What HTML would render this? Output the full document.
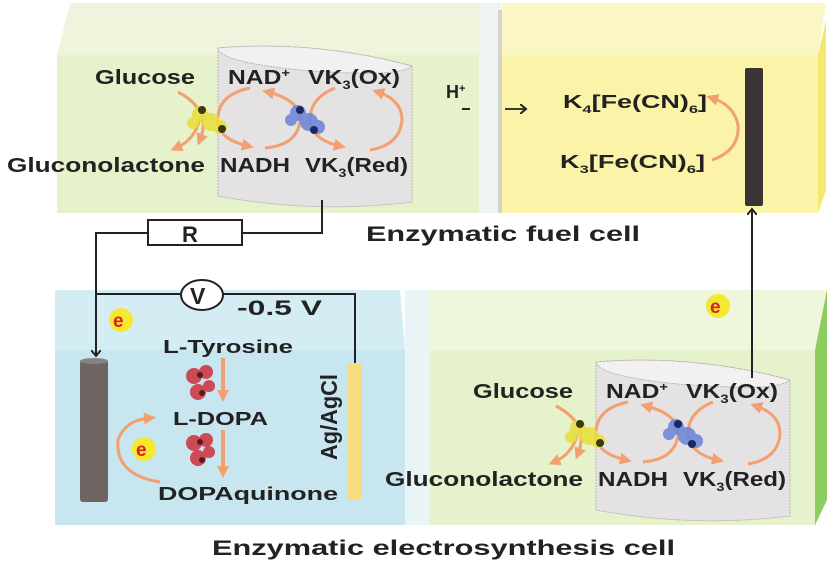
<!DOCTYPE html>
<html><head><meta charset="utf-8"><style>
html,body{margin:0;padding:0;background:#fff;}
svg{display:block;}
text{font-family:"Liberation Sans",sans-serif;font-weight:bold;fill:#222;}
</style></head><body>
<svg width="827" height="563" viewBox="0 0 827 563" xmlns="http://www.w3.org/2000/svg">
<defs>
<marker id="ah" markerWidth="10" markerHeight="10" refX="5" refY="5" orient="auto" markerUnits="userSpaceOnUse">
<path d="M0,0 L6,5 L0,10" fill="none" stroke="#222" stroke-width="2"/></marker>
<marker id="oa" markerWidth="12" markerHeight="12" refX="6" refY="6" orient="auto" markerUnits="userSpaceOnUse">
<path d="M0,0 L12,6 L0,12 z" fill="#f2a070"/></marker>
<g id="scheme">
  <path d="M218,48 L218,196 Q315,214 412,202 L412,66 Q315,40 218,48 Z" fill="#e4e2e2" stroke="#aaa" stroke-width="0.8" stroke-dasharray="2,1"/>
  <path d="M218,48 Q220,62 300,70 Q400,78 412,66 Q315,40 218,48 Z" fill="#f2f0f0" stroke="#aaa" stroke-width="0.8" stroke-dasharray="2,1"/>
  <g fill="none" stroke="#f2a070" stroke-width="3">
    <path d="M178,92 Q212,110 200,140" marker-end="url(#oa)"/>
    <path d="M200,118 Q195,140 176,148" marker-end="url(#oa)"/>
    <path d="M250,88 Q215,95 218,125 Q222,140 248,146" marker-end="url(#oa)"/>
    <path d="M265,148 Q298,145 300,120 Q300,100 268,92" marker-end="url(#oa)"/>
    <path d="M335,88 Q310,98 310,120 Q312,140 340,146" marker-end="url(#oa)"/>
    <path d="M370,150 Q400,145 402,120 Q402,100 378,92" marker-end="url(#oa)"/>
  </g>
  <g fill="#e8e040" opacity="0.9"><circle cx="200" cy="114" r="8"/><circle cx="211" cy="122" r="9"/><circle cx="220" cy="127" r="7"/><circle cx="193" cy="123" r="6"/></g>
  <g fill="#3a3a10"><circle cx="202" cy="110" r="4"/><circle cx="222" cy="129" r="4"/></g>
  <g fill="#7088d8" opacity="0.9"><circle cx="298" cy="113" r="8"/><circle cx="309" cy="122" r="9"/><circle cx="318" cy="127" r="7"/><circle cx="291" cy="120" r="6"/></g>
  <g fill="#1c2860"><circle cx="300" cy="110" r="4"/><circle cx="314" cy="130" r="4"/></g>
  <text x="95" y="84" font-size="20" textLength="100" lengthAdjust="spacingAndGlyphs">Glucose</text>
  <text x="7" y="172" font-size="20" textLength="198" lengthAdjust="spacingAndGlyphs">Gluconolactone</text>
  <text x="228" y="84" font-size="20" textLength="62" lengthAdjust="spacingAndGlyphs">NAD<tspan font-size="12" dy="-7">+</tspan></text>
  <text x="308" y="84" font-size="20" textLength="92" lengthAdjust="spacingAndGlyphs">VK<tspan font-size="12" dy="5">3</tspan><tspan dy="-5">(Ox)</tspan></text>
  <text x="220" y="172" font-size="20" textLength="70" lengthAdjust="spacingAndGlyphs">NADH</text>
  <text x="305" y="172" font-size="20" textLength="103" lengthAdjust="spacingAndGlyphs">VK<tspan font-size="12" dy="5">3</tspan><tspan dy="-5">(Red)</tspan></text>
</g>
</defs>

<polygon points="57,55 70,3 479,3 479,55" fill="#eef5dc"/>
<rect x="57" y="55" width="422" height="158" fill="#e6f2cc"/>
<rect x="479" y="3" width="22" height="210" fill="#eef4f4"/>
<rect x="498" y="10" width="4" height="203" fill="#d4d4c8"/>
<polygon points="502,3 826,3 818,55 502,55" fill="#fbf7c4"/>
<rect x="502" y="55" width="316" height="158" fill="#faf3a8"/>
<polygon points="818,55 826,20 826,190 818,213" fill="#f5e870"/>

<polygon points="55,290 400,290 405,350 55,350" fill="#d4ecf4"/>
<rect x="55" y="350" width="350" height="175" fill="#c8e6ef"/>
<rect x="405" y="290" width="25" height="235" fill="#e8f4f6"/>
<polygon points="430,290 827,290 815,350 430,350" fill="#eef6dc"/>
<rect x="430" y="350" width="386" height="175" fill="#e6f2cc"/>
<polygon points="815,350 827,290 827,500 815,525" fill="#8ccc60"/>

<use href="#scheme"/>
<use href="#scheme" transform="translate(378,314)"/>

<g fill="none" stroke="#222" stroke-width="2">
  <path d="M322,200 L322,233 L242,233"/>
  <path d="M148,233 L96,233 L96,355" marker-end="url(#ah)"/>
  <path d="M96,294 L181,294"/>
  <path d="M223,294 L355,294 L355,364"/>
  <path d="M752,378 L752,210" marker-end="url(#ah)"/>
  <path d="M505,109 L525,109" marker-end="url(#ah)" stroke-width="1.8"/>
  <path d="M462,109 L470,109" stroke-width="2"/>
</g>
<rect x="148" y="220" width="94" height="25" fill="#fff" stroke="#222" stroke-width="2"/>
<text x="182" y="242" font-size="22">R</text>
<ellipse cx="202" cy="295" rx="21" ry="15" fill="#fff" stroke="#222" stroke-width="2"/>
<text x="190" y="304" font-size="23">V</text>
<text x="237" y="315" font-size="21" textLength="85" lengthAdjust="spacingAndGlyphs">-0.5 V</text>

<rect x="80" y="360" width="28" height="142" fill="#6e6464" rx="3"/>
<ellipse cx="94" cy="361" rx="14" ry="3" fill="#8a8080"/>
<rect x="347" y="363" width="15" height="137" fill="#f8dc80"/>
<text transform="translate(337,460) rotate(-90)" font-size="23" x="0" y="0" textLength="86" lengthAdjust="spacingAndGlyphs">Ag/AgCl</text>
<rect x="745" y="68" width="18" height="138" fill="#3a3434" rx="2"/>

<text x="446" y="98" font-size="18">H<tspan font-size="11" dy="-6">+</tspan></text>
<text x="563" y="108" font-size="18" textLength="144" lengthAdjust="spacingAndGlyphs">K<tspan font-size="11" dy="5">4</tspan><tspan dy="-5">[Fe(CN)</tspan><tspan font-size="11" dy="5">6</tspan><tspan dy="-5">]</tspan></text>
<text x="560" y="168" font-size="18" textLength="145" lengthAdjust="spacingAndGlyphs">K<tspan font-size="11" dy="5">3</tspan><tspan dy="-5">[Fe(CN)</tspan><tspan font-size="11" dy="5">6</tspan><tspan dy="-5">]</tspan></text>
<path d="M712,160 Q740,150 738,125 Q734,105 712,98" fill="none" stroke="#f2a070" stroke-width="3" marker-end="url(#oa)"/>

<text x="163" y="353" font-size="18" textLength="130" lengthAdjust="spacingAndGlyphs">L-Tyrosine</text>
<text x="173" y="425" font-size="18" textLength="95" lengthAdjust="spacingAndGlyphs">L-DOPA</text>
<text x="158" y="500" font-size="18" textLength="180" lengthAdjust="spacingAndGlyphs">DOPAquinone</text>
<g fill="none" stroke="#f2a070" stroke-width="4">
  <path d="M223,358 L223,396" marker-end="url(#oa)"/>
  <path d="M223,430 L223,472" marker-end="url(#oa)"/>
  <path d="M160,482 Q115,475 118,440 Q125,420 150,418" stroke-width="3" marker-end="url(#oa)"/>
</g>
<g fill="#cc4a56"><circle cx="194" cy="376" r="8"/><circle cx="206" cy="372" r="7"/><circle cx="198" cy="392" r="8"/><circle cx="209" cy="386" r="6"/>
<circle cx="194" cy="443" r="8"/><circle cx="206" cy="440" r="7"/><circle cx="198" cy="458" r="8"/><circle cx="209" cy="452" r="6"/></g>
<g fill="#5a1a20"><circle cx="200" cy="375" r="3"/><circle cx="202" cy="393" r="3"/><circle cx="200" cy="442" r="3"/><circle cx="202" cy="460" r="3"/></g>

<g>
<circle cx="121" cy="320" r="12" fill="#f5e830"/><text x="113" y="327" font-size="19" style="fill:#e02020">e</text>
<circle cx="144" cy="449" r="12" fill="#f5e830"/><text x="136" y="456" font-size="19" style="fill:#e02020">e</text>
<circle cx="718" cy="306" r="12" fill="#f5e830"/><text x="710" y="313" font-size="19" style="fill:#e02020">e</text>
</g>

<text x="366" y="241" font-size="21" textLength="274" lengthAdjust="spacingAndGlyphs">Enzymatic fuel cell</text>
<text x="212" y="555" font-size="21" textLength="463" lengthAdjust="spacingAndGlyphs">Enzymatic electrosynthesis cell</text>
</svg>
</body></html>
